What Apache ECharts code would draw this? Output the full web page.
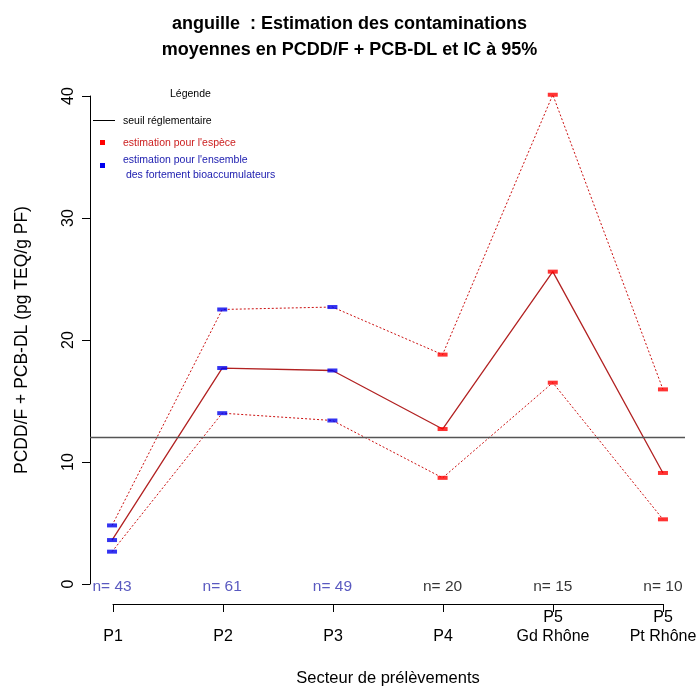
<!DOCTYPE html>
<html><head><meta charset="utf-8">
<script src="https://cdn.jsdelivr.net/npm/echarts@6/dist/echarts.min.js"></script>
<style>html,body{margin:0;padding:0;background:#fff}#c{width:699px;height:689px}</style>
</head><body><div id="c"></div>
<script>
const categories = ['P1', 'P2', 'P3', 'P4', 'P5\nGd Rhône', 'P5\nPt Rhône'];
const meanValues = [3.6, 17.7, 17.5, 12.7, 25.6, 9.1];
const upperValues = [4.8, 22.5, 22.7, 18.8, 40.1, 15.95];
const lowerValues = [2.65, 14.0, 13.4, 8.7, 16.5, 5.3];
const sampleSizes = [43, 61, 49, 20, 15, 10];
const estimationSource = ['ensemble', 'ensemble', 'ensemble', 'espece', 'espece', 'espece'];
const threshold = 12;
const yTickValues = [0, 10, 20, 30, 40];

const FONT = 'Liberation Sans, Arial, sans-serif';
const RED = '#ff0000', BLUE = '#0000ee';
const xs = categories.map((c, i) => i + 1);
const pts = arr => arr.map((v, i) => [xs[i], v]);
const markerColor = i => estimationSource[i] === 'ensemble' ? BLUE : RED;
const markerData = arr => arr.map((v, i) => ({ value: [xs[i], v], itemStyle: { color: markerColor(i) } }));

const chart = echarts.init(document.getElementById('c'), null, { renderer: 'canvas' });
chart.setOption({
  animation: false,
  backgroundColor: '#fff',
  textStyle: { fontFamily: FONT },
  title: {
    text: 'anguille  : Estimation des contaminations\nmoyennes en PCDD/F + PCB-DL et IC à 95%',
    left: 'center', top: 6,
    textStyle: { fontFamily: FONT, fontSize: 18, fontWeight: 'bold', color: '#000', lineHeight: 26 }
  },
  grid: [
    { left: 90, right: 14, top: 74, bottom: 85, containLabel: false, outerBoundsMode: 'none' },
    { left: 90, right: 14, top: 96, bottom: 105, containLabel: false, outerBoundsMode: 'none' },
    { left: 113, right: 36, top: 74, bottom: 85, containLabel: false, outerBoundsMode: 'none' }
  ],
  xAxis: [
    { gridIndex: 0, type: 'value', min: 0.8, max: 6.2, show: false, axisLine: { onZero: false } },
    { gridIndex: 1, type: 'value', min: 0.8, max: 6.2, show: false, axisLine: { onZero: false } },
    {
      gridIndex: 2, type: 'value', min: 1, max: 6, interval: 1, position: 'bottom',
      axisLine: { show: true, onZero: false, lineStyle: { color: '#000', width: 1 } },
      axisTick: { show: true, length: 8, lineStyle: { color: '#000' } },
      splitLine: { show: false },
      axisLabel: {
        fontFamily: FONT, fontSize: 16, color: '#000', margin: 4, lineHeight: 19,
        showMinLabel: true, showMaxLabel: true,
        formatter: v => { const s = categories[v - 1] || ''; return s.indexOf('\n') < 0 ? '\n' + s : s; }
      },
      name: 'Secteur de prélèvements', nameLocation: 'middle', nameGap: 66,
      nameTextStyle: { fontFamily: FONT, fontSize: 16.5, color: '#000' }
    }
  ],
  yAxis: [
    { gridIndex: 0, type: 'value', min: -1.64, max: 41.8, show: false, axisLine: { onZero: false } },
    {
      gridIndex: 1, type: 'value', min: 0, max: 40, interval: 10,
      axisLine: { show: true, onZero: false, lineStyle: { color: '#000', width: 1 } },
      axisTick: { show: true, length: 8, lineStyle: { color: '#000' } },
      splitLine: { show: false },
      axisLabel: {
        fontFamily: FONT, fontSize: 16, color: '#000', rotate: 90, margin: 13,
        formatter: v => yTickValues.indexOf(v) >= 0 ? String(v) : ''
      },
      name: 'PCDD/F + PCB-DL (pg TEQ/g PF)', nameLocation: 'middle', nameGap: 59, nameRotate: 90,
      nameTextStyle: { fontFamily: FONT, fontSize: 17.5, color: '#000' }
    },
    { gridIndex: 2, type: 'value', min: -1.64, max: 41.8, show: false, axisLine: { onZero: false } }
  ],
  series: [
    {
      name: 'upper', type: 'line', xAxisIndex: 0, yAxisIndex: 0, data: pts(upperValues),
      symbol: 'none', lineStyle: { color: '#cc1111', width: 1, type: [2, 2] }, z: 2
    },
    {
      name: 'lower', type: 'line', xAxisIndex: 0, yAxisIndex: 0, data: pts(lowerValues),
      symbol: 'none', lineStyle: { color: '#cc1111', width: 1, type: [2, 2] }, z: 2
    },
    {
      name: 'mean', type: 'line', xAxisIndex: 0, yAxisIndex: 0, data: pts(meanValues),
      symbol: 'none', lineStyle: { color: '#b22222', width: 1.3 }, z: 2,
      markLine: {
        silent: true, symbol: 'none', label: { show: false },
        lineStyle: { color: '#555', width: 1.3, type: 'solid' },
        data: [{ yAxis: threshold }]
      }
    },
    {
      name: 'markers', type: 'scatter', xAxisIndex: 0, yAxisIndex: 0,
      data: [].concat(markerData(upperValues), markerData(meanValues), markerData(lowerValues)),
      symbol: 'rect', symbolSize: [10, 4], z: 5
    },
    {
      name: 'n', type: 'scatter', xAxisIndex: 0, yAxisIndex: 0,
      data: sampleSizes.map((n, i) => ({
        value: [xs[i], 0], n: n,
        label: { color: estimationSource[i] === 'ensemble' ? '#2f2fb0' : '#000' }
      })),
      symbolSize: 0, z: 6,
      label: {
        show: true, position: 'inside', offset: [0, 3], fontFamily: FONT, fontSize: 15.5,
        formatter: p => 'n= ' + p.data.n
      }
    }
  ],
  graphic: [
    { type: 'text', left: 170, top: 89, style: { text: 'Légende', font: '10.5px ' + FONT, fill: '#000' } },
    { type: 'line', shape: { x1: 93, y1: 120.5, x2: 115, y2: 120.5 }, style: { stroke: '#000', lineWidth: 1 } },
    { type: 'text', left: 123, top: 116, style: { text: 'seuil réglementaire', font: '10.5px ' + FONT, fill: '#000' } },
    { type: 'rect', shape: { x: 100, y: 140, width: 5, height: 5 }, style: { fill: RED } },
    { type: 'text', left: 123, top: 138, style: { text: "estimation pour l'espèce", font: '10.5px ' + FONT, fill: '#cc2020' } },
    { type: 'rect', shape: { x: 100, y: 163, width: 5, height: 5 }, style: { fill: BLUE } },
    { type: 'text', left: 123, top: 153, style: { text: "estimation pour l'ensemble\n des fortement bioaccumulateurs", font: '10.5px ' + FONT, fill: '#2020b0', lineHeight: 15 } }
  ]
});
</script>
</body></html>
